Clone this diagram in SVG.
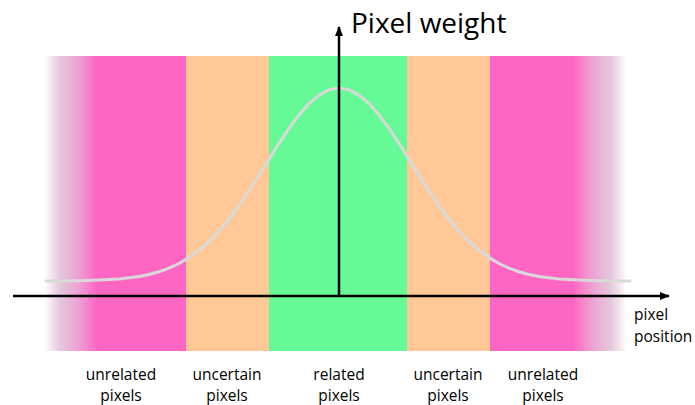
<svg xmlns="http://www.w3.org/2000/svg" width="695" height="405" viewBox="0 0 695 405">
<style>
.lbl{font-family:"Open Sans","Liberation Sans",sans-serif;font-size:15.5px;fill:#000;text-anchor:middle}
.axis{stroke:#000;stroke-width:2.5;fill:none}
</style>
<defs>
<linearGradient id="fadeL" x1="0" y1="0" x2="1" y2="0">
<stop offset="0" stop-color="#ffffff"/>
<stop offset="0.3" stop-color="#e4c8dc"/>
<stop offset="0.65" stop-color="#eca2d2"/>
<stop offset="1" stop-color="#ff66c4"/>
</linearGradient>
<linearGradient id="fadeR" x1="1" y1="0" x2="0" y2="0">
<stop offset="0" stop-color="#ffffff"/>
<stop offset="0.3" stop-color="#e4c8dc"/>
<stop offset="0.65" stop-color="#eca2d2"/>
<stop offset="1" stop-color="#ff66c4"/>
</linearGradient>
<marker id="arr" markerWidth="10" markerHeight="8" refX="9" refY="4" orient="auto" markerUnits="userSpaceOnUse">
<path d="M0,0 L10,4 L0,8 Z" fill="#000"/>
</marker>
</defs>
<g id="bands">
<rect x="44" y="56" width="53" height="295" fill="url(#fadeL)"/>
<rect x="96" y="56" width="90" height="295" fill="#ff66c4"/>
<rect x="186" y="56" width="83" height="295" fill="#ffc896"/>
<rect x="269" y="56" width="138" height="295" fill="#66fa96"/>
<rect x="407" y="56" width="83" height="295" fill="#ffc896"/>
<rect x="490" y="56" width="84" height="295" fill="#ff66c4"/>
<rect x="573" y="56" width="54" height="295" fill="url(#fadeR)"/>
</g>
<g id="curve">
<polyline fill="none" stroke="#d9d9d9" stroke-width="3" stroke-linejoin="round" stroke-linecap="round" points="46,281 79,280.7 99,280.1 119,279 139,276.5 149,274.5 159,271.8 169,268.2 179,263.5 189,257.6 199,250.3 209,241.5 219,231 229,219 239,205.5 249,190.7 259,175.1 269,159.1 279,143.3 289,128.4 299,114.9 309,103.6 319,95.1 329,89.8 339,88 349,89.8 359,95.1 369,103.6 379,114.9 389,128.4 399,143.3 409,159.1 419,175.1 429,190.7 439,205.5 449,219 459,231 469,241.5 479,250.3 489,257.6 499,263.5 509,268.2 519,271.8 529,274.5 539,276.5 559,279 579,280.1 599,280.7 630,281"/>
</g>
<g id="connectors">
<line class="axis" x1="13" y1="296" x2="669" y2="296" marker-end="url(#arr)"/>
<line class="axis" x1="339" y1="296" x2="339" y2="27" marker-end="url(#arr)"/>
</g>
<g id="axis-labels">
<text x="351" y="33" style="font-family:'Open Sans','Liberation Sans',sans-serif;font-size:28px;fill:#000">Pixel weight</text>
<text x="634" y="320" style="font-family:'Open Sans','Liberation Sans',sans-serif;font-size:15.5px;fill:#000">pixel</text>
<text x="634" y="342" style="font-family:'Open Sans','Liberation Sans',sans-serif;font-size:15.5px;fill:#000">position</text>
</g>
<g id="label-unrelated-left"><text class="lbl" x="121" y="380">unrelated</text><text class="lbl" x="121" y="401">pixels</text></g>
<g id="label-uncertain-left"><text class="lbl" x="227" y="380">uncertain</text><text class="lbl" x="227" y="401">pixels</text></g>
<g id="label-related"><text class="lbl" x="339" y="380">related</text><text class="lbl" x="339" y="401">pixels</text></g>
<g id="label-uncertain-right"><text class="lbl" x="448" y="380">uncertain</text><text class="lbl" x="448" y="401">pixels</text></g>
<g id="label-unrelated-right"><text class="lbl" x="543" y="380">unrelated</text><text class="lbl" x="543" y="401">pixels</text></g>
</svg>
